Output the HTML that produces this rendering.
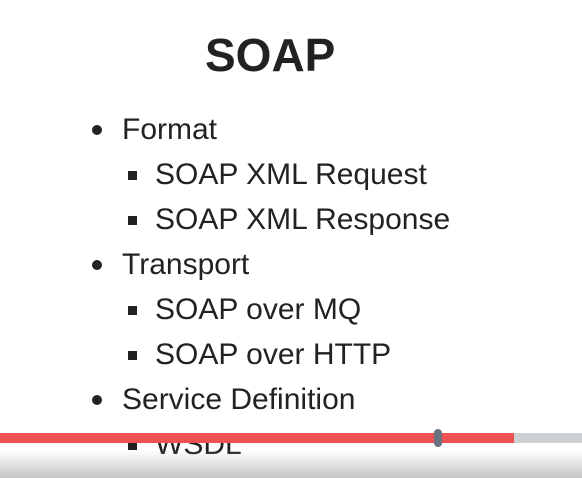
<!DOCTYPE html>
<html><head><style>
body{margin:0;width:582px;height:478px;overflow:hidden;background:#fff;position:relative;font-family:"Liberation Sans",sans-serif;color:#222;}
.t{position:absolute;white-space:nowrap;font-size:30px;line-height:1;}
.d{position:absolute;width:10px;height:10px;border-radius:50%;background:#222;}
.s{position:absolute;width:9px;height:9px;background:#222;}
</style></head><body>
<div class="t" style="left:205px;top:32px;font-size:46px;font-weight:bold;">SOAP</div>
<div class="d" style="left:92px;top:125px"></div><div class="t" style="left:122px;top:115px">Format</div>
<div class="s" style="left:128px;top:171px"></div><div class="t" style="left:155px;top:160px">SOAP XML Request</div>
<div class="s" style="left:128px;top:216px"></div><div class="t" style="left:155px;top:205px">SOAP XML Response</div>
<div class="d" style="left:92px;top:260px"></div><div class="t" style="left:122px;top:250px">Transport</div>
<div class="s" style="left:128px;top:306px"></div><div class="t" style="left:155px;top:295px">SOAP over MQ</div>
<div class="s" style="left:128px;top:351px"></div><div class="t" style="left:155px;top:340px">SOAP over HTTP</div>
<div class="d" style="left:92px;top:395px"></div><div class="t" style="left:122px;top:385px">Service Definition</div>
<div class="s" style="left:128px;top:441px"></div><div class="t" style="left:155px;top:430px">WSDL</div>
<div style="position:absolute;left:0;top:450px;width:582px;height:28px;background:linear-gradient(rgba(255,255,255,0),#c4c4c6);"></div>
<div style="position:absolute;left:0;top:433px;width:514px;height:10px;background:#ec5254;"></div>
<div style="position:absolute;left:514px;top:433px;width:68px;height:10px;background:#cdd0d2;"></div>
<div style="position:absolute;left:434px;top:429px;width:8px;height:18px;border-radius:4px;background:#6b7280;"></div>
</body></html>
